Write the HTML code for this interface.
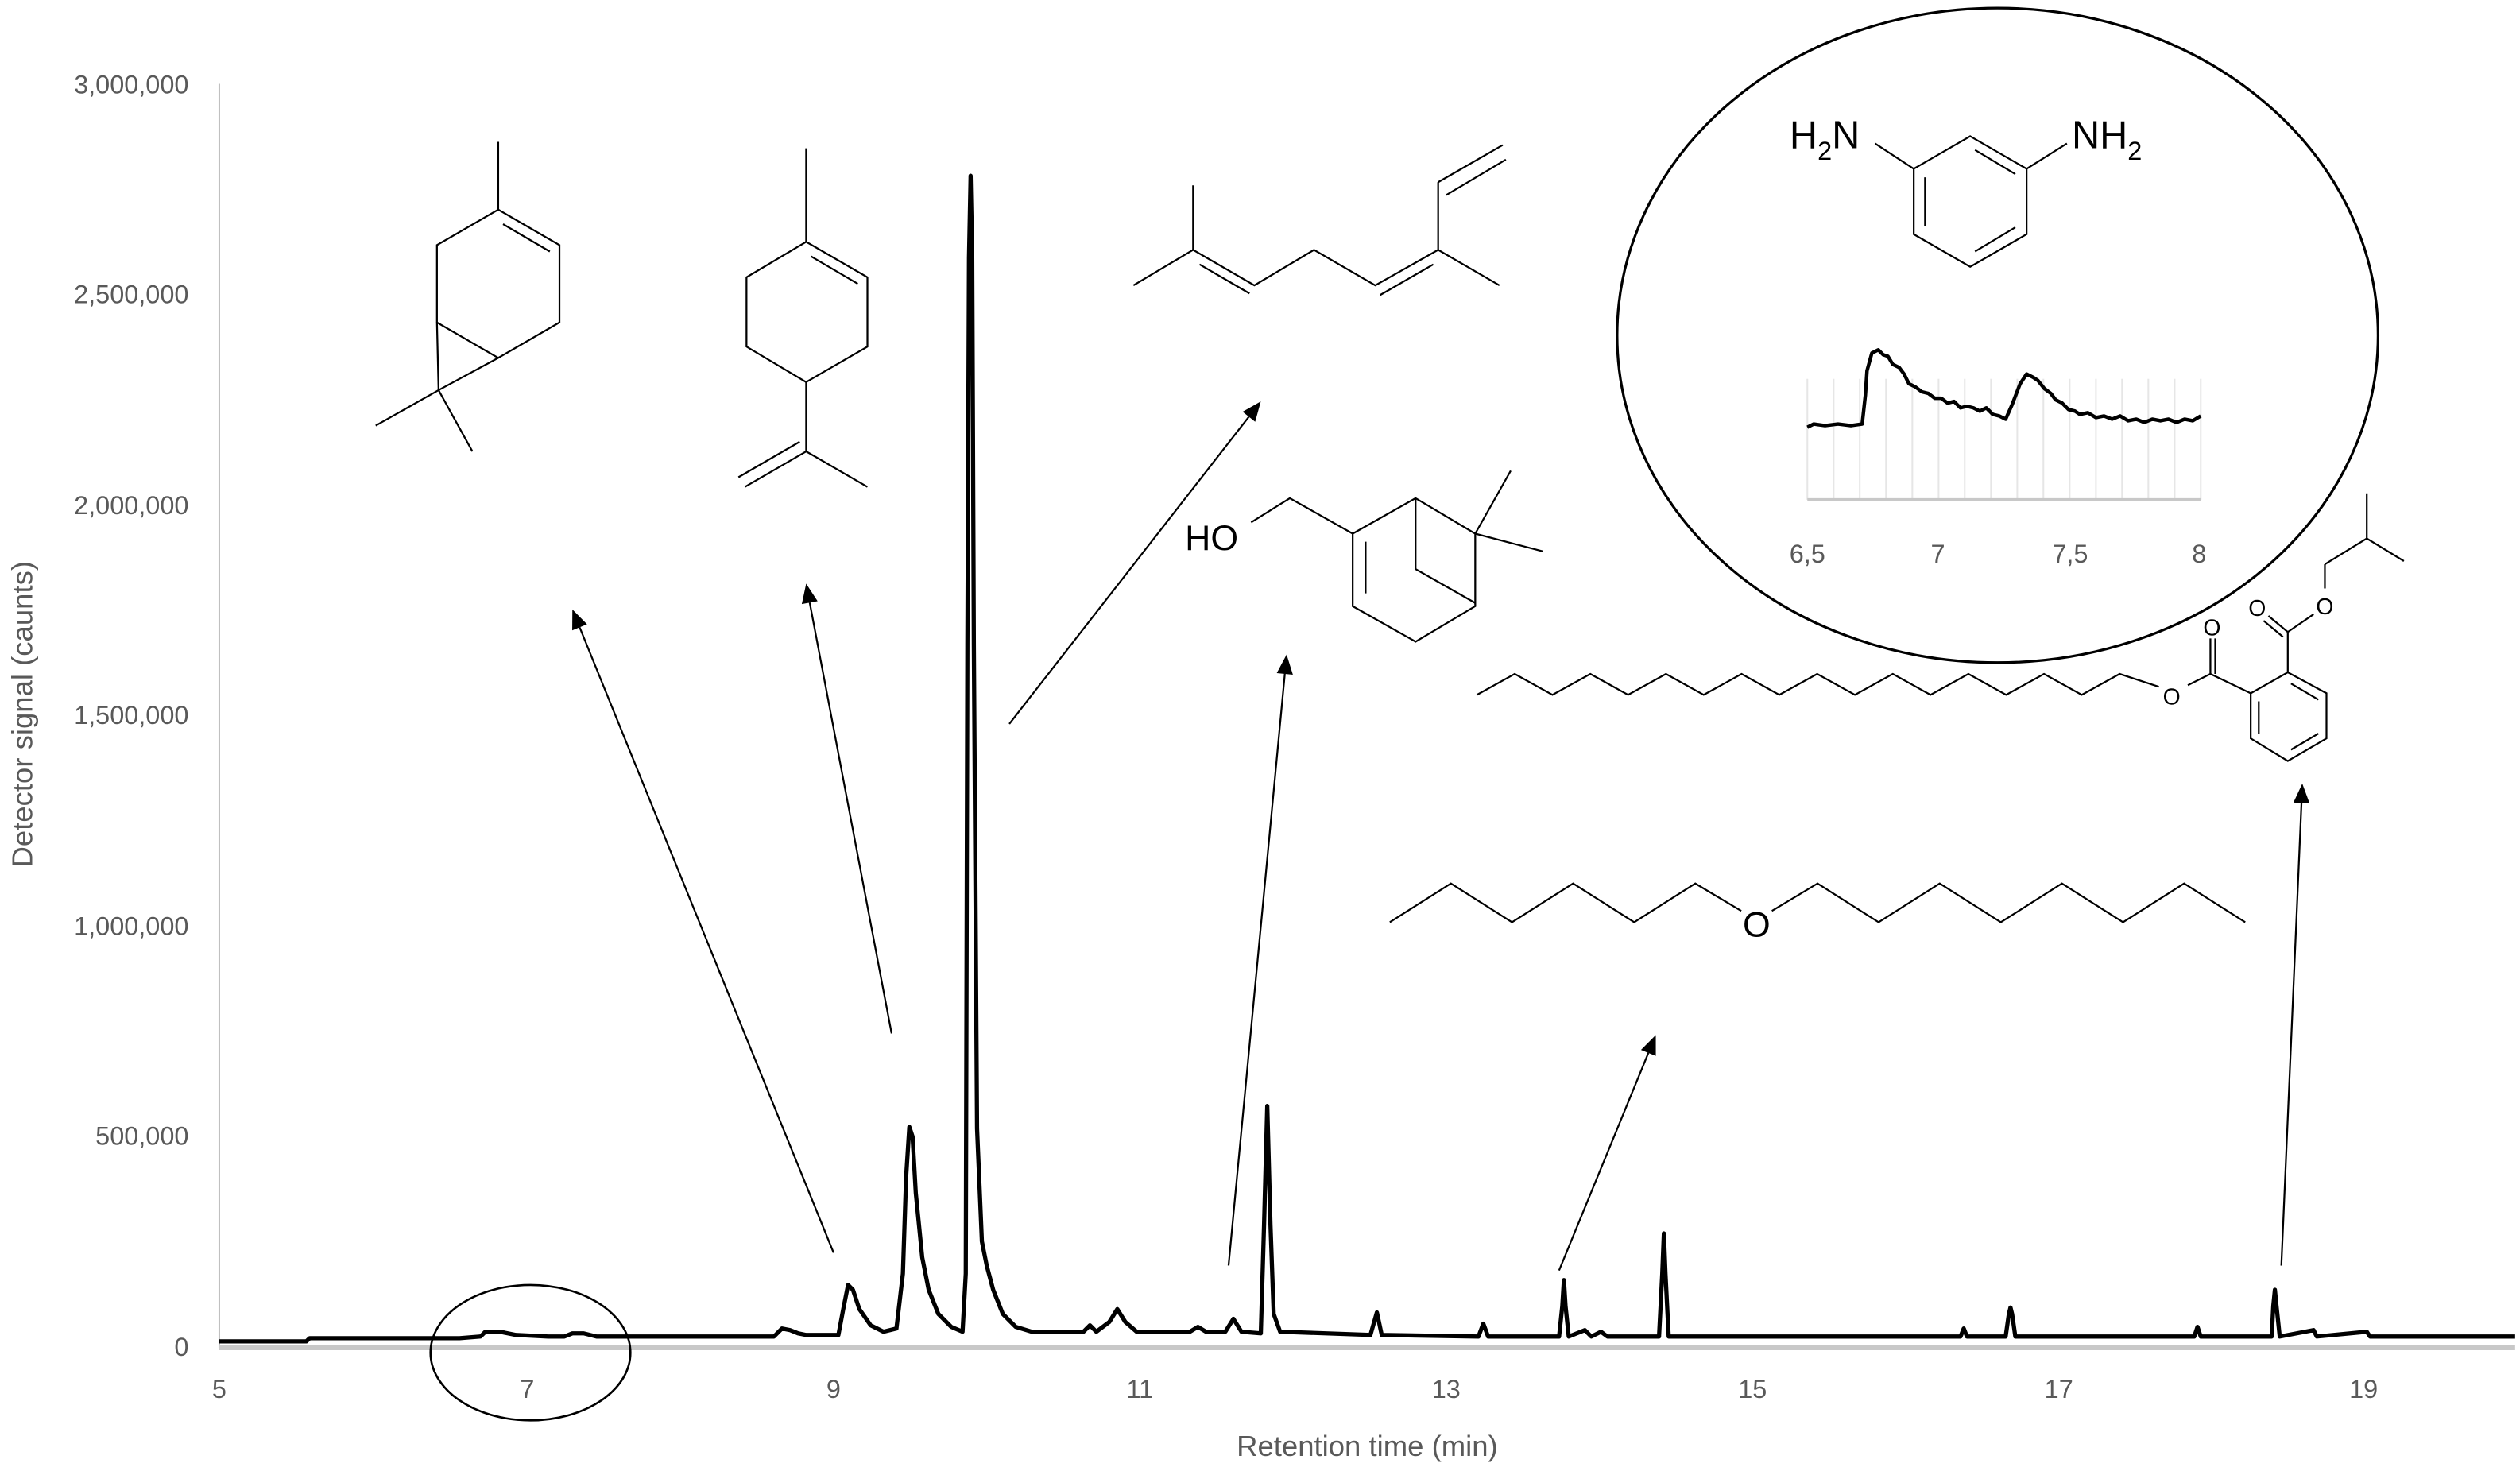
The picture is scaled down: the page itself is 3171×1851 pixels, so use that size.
<!DOCTYPE html>
<html><head><meta charset="utf-8"><style>
html,body{margin:0;padding:0;background:#fff;}
svg{display:block;}
.tk{font-family:"Liberation Sans",sans-serif;font-size:16px;fill:#595959;}
.m{stroke:#000;stroke-width:1.1;fill:none;}
.lbl{font-family:"Liberation Sans",sans-serif;fill:#000;}
</style></head><body>
<svg width="3171" height="1851" viewBox="0 0 1563 912.4" xmlns="http://www.w3.org/2000/svg">
<rect width="1563" height="913" fill="#fff"/>
<line x1="136" y1="52" x2="136" y2="836" stroke="#bfbfbf" stroke-width="1"/>
<line x1="136" y1="836" x2="1560" y2="836" stroke="#c8c8c8" stroke-width="3"/>
<g class="tk" text-anchor="end">
<text x="117" y="58">3,000,000</text>
<text x="117" y="188">2,500,000</text>
<text x="117" y="319">2,000,000</text>
<text x="117" y="449">1,500,000</text>
<text x="117" y="580">1,000,000</text>
<text x="117" y="710">500,000</text>
<text x="117" y="841">0</text>
</g>
<g class="tk" text-anchor="middle">
<text x="136" y="867">5</text><text x="327" y="867">7</text><text x="517" y="867">9</text>
<text x="707" y="867">11</text><text x="897" y="867">13</text><text x="1087" y="867">15</text>
<text x="1277" y="867">17</text><text x="1466" y="867">19</text>
<text x="848" y="903" style="font-size:18px">Retention time (min)</text>
<text transform="translate(20,443) rotate(-90)" style="font-size:18px">Detector signal (caunts)</text>
</g>
<polyline fill="none" stroke="#000" stroke-width="2.6" stroke-linejoin="round" points="136,832 190,832 192,830 285,830 298,829 301,826 310,826 320,828 340,829 350,829 355,827 362,827 370,829 480,829 485,824 490,825 495,827 500,828 520,828 523,812 526,797 529,800 533,812 540,822 548,826 556,824 560,790 562,730 564,699 566,705 568,740 572,780 576,800 582,815 590,823 597,826 599,790 600,400 601,160 602,109 603,160 604,400 606,700 609,770 612,785 616,800 622,815 630,823 640,826 672,826 676,822 680,826 688,820 693,812 698,820 705,826 738,826 743,823 748,826 760,826 765,818 770,826 782,827 784,760 786,686 788,760 790,815 794,826 850,828 854,814 857,828 917,829 920,821 923,829 967,829 969,810 970,794 971,810 973,829 983,825 987,829 993,826 997,829 1029,829 1031,790 1032,765 1033,790 1035,829 1216,829 1218,824 1220,829 1244,829 1246,815 1247,811 1248,815 1250,829 1361,829 1363,823 1365,829 1409,829 1410,810 1411,800 1412,810 1414,829 1435,825 1437,829 1468,826 1470,829 1560,829"/>
<ellipse cx="329" cy="839" rx="62" ry="42" fill="none" stroke="#000" stroke-width="1.3"/>
<ellipse cx="1239" cy="208" rx="236" ry="203" fill="none" stroke="#000" stroke-width="1.6"/>
<g stroke="#e6e6e6" stroke-width="1">
<line x1="1121" y1="235" x2="1121" y2="310"/><line x1="1137.3" y1="235" x2="1137.3" y2="310"/><line x1="1153.5" y1="235" x2="1153.5" y2="310"/><line x1="1169.8" y1="235" x2="1169.8" y2="310"/><line x1="1186.1" y1="235" x2="1186.1" y2="310"/><line x1="1202.4" y1="235" x2="1202.4" y2="310"/><line x1="1218.6" y1="235" x2="1218.6" y2="310"/><line x1="1234.9" y1="235" x2="1234.9" y2="310"/><line x1="1251.2" y1="235" x2="1251.2" y2="310"/><line x1="1267.4" y1="235" x2="1267.4" y2="310"/><line x1="1283.7" y1="235" x2="1283.7" y2="310"/><line x1="1300" y1="235" x2="1300" y2="310"/><line x1="1316.2" y1="235" x2="1316.2" y2="310"/><line x1="1332.5" y1="235" x2="1332.5" y2="310"/><line x1="1348.8" y1="235" x2="1348.8" y2="310"/><line x1="1365" y1="235" x2="1365" y2="310"/>
</g>
<line x1="1121" y1="310" x2="1365" y2="310" stroke="#c8c8c8" stroke-width="2"/>
<g class="tk" text-anchor="middle">
<text x="1121" y="349">6,5</text><text x="1202" y="349">7</text><text x="1284" y="349">7,5</text><text x="1364" y="349">8</text>
</g>
<polyline fill="none" stroke="#000" stroke-width="2.2" stroke-linejoin="round" points="1121,265 1125,263 1132,264 1140,263 1148,264 1155,263 1157,245 1158,230 1161,219 1165,217 1168,220 1171,221 1174,226 1178,228 1181,232 1184,238 1188,240 1192,243 1196,244 1200,247 1204,247 1208,250 1212,249 1216,253 1220,252 1224,253 1228,255 1232,253 1236,257 1240,258 1244,260 1248,251 1253,238 1257,232 1261,234 1264,236 1268,241 1272,244 1275,248 1279,250 1283,254 1287,255 1290,257 1295,256 1300,259 1305,258 1310,260 1315,258 1320,261 1325,260 1330,262 1335,260 1340,261 1345,260 1350,262 1355,260 1360,261 1365,258"/>
<g class="m">
<polygon points="1222,84.5 1257,104.7 1257,145.3 1222,165.5 1187,145.3 1187,104.7"/>
<line x1="1225" y1="93" x2="1250" y2="108"/><line x1="1250" y1="141" x2="1225" y2="156"/><line x1="1194" y1="110" x2="1194" y2="140"/>
<line x1="1187" y1="104.7" x2="1163" y2="89"/><line x1="1257" y1="104.7" x2="1282" y2="89"/>
</g>
<text class="lbl" x="1110" y="92" font-size="24">H<tspan font-size="16" dy="7">2</tspan><tspan dy="-7">N</tspan></text>
<text class="lbl" x="1285" y="92" font-size="24">NH<tspan font-size="16" dy="7">2</tspan></text>
<g class="m">
<line x1="309" y1="88" x2="309" y2="130"/>
<polygon points="309,130 347,152 347,200 309,222 271,200 271,152"/>
<line x1="312" y1="139" x2="341" y2="156"/>
<line x1="271" y1="200" x2="272" y2="242"/><line x1="309" y1="222" x2="272" y2="242"/>
<line x1="272" y1="242" x2="233" y2="264"/><line x1="272" y1="242" x2="293" y2="280"/>
</g>
<g class="m">
<line x1="500" y1="92" x2="500" y2="150"/>
<polygon points="500,150 538,172 538,215 500,237 463,215 463,172"/>
<line x1="503" y1="159" x2="532" y2="176"/>
<line x1="500" y1="237" x2="500" y2="280"/><line x1="500" y1="280" x2="538" y2="302"/>
<line x1="500" y1="280" x2="462" y2="302"/><line x1="496" y1="274" x2="458" y2="296"/>
</g>
<g class="m">
<polyline points="703,177 740,155 778,177 815,155 853,177 892,155 930,177"/>
<line x1="740" y1="155" x2="740" y2="115"/>
<line x1="744" y1="164" x2="775" y2="182"/>
<line x1="856" y1="183" x2="889" y2="164"/>
<line x1="892" y1="155" x2="892" y2="113"/><line x1="892" y1="113" x2="932" y2="90"/><line x1="897" y1="121" x2="934" y2="99"/>
</g>
<text class="lbl" x="735" y="341" font-size="22">HO</text>
<g class="m">
<polyline points="776,324 800,309 839,331"/>
<polygon points="839,331 878,309 915,331 915,376 878,398 839,376"/>
<line x1="847" y1="336" x2="847" y2="368"/>
<polyline points="878,309 878,353 915,374"/>
<line x1="915" y1="331" x2="937" y2="292"/><line x1="915" y1="331" x2="957" y2="342"/>
</g>
<g class="m">
<polyline points="862,572 899.9,548 937.8,572 975.7,548 1013.6,572 1051.5,548 1080,565"/>
<polyline points="1099,565 1127.3,548 1165.2,572 1203.1,548 1241,572 1278.9,548 1316.8,572 1354.7,548 1392.6,572"/>
</g>
<text class="lbl" x="1089.5" y="581" font-size="22" text-anchor="middle">O</text>
<g class="m">
<polyline points="916,431 939.5,418 962.9,431 986.4,418 1009.8,431 1033.3,418 1056.7,431 1080.2,418 1103.6,431 1127.1,418 1150.5,431 1174,418 1197.4,431 1220.9,418 1244.3,431 1267.8,418 1291.2,431 1314.7,418 1339,426"/>
<line x1="1357" y1="425" x2="1371" y2="418"/>
<line x1="1371" y1="418" x2="1396" y2="430"/>
<line x1="1371" y1="418" x2="1371" y2="396"/><line x1="1374" y1="418" x2="1374" y2="396"/>
<polygon points="1419,417 1443,430 1443,458 1419,472 1396,458 1396,430"/>
<line x1="1421" y1="424" x2="1438" y2="434"/><line x1="1438" y1="455" x2="1421" y2="465"/><line x1="1401" y1="435" x2="1401" y2="455"/>
<line x1="1419" y1="417" x2="1419" y2="392"/>
<line x1="1419" y1="392" x2="1407" y2="382"/><line x1="1416" y1="395" x2="1404" y2="385"/>
<line x1="1419" y1="392" x2="1435" y2="381"/>
<line x1="1442" y1="365" x2="1442" y2="350"/><line x1="1442" y1="350" x2="1468" y2="334"/>
<line x1="1468" y1="334" x2="1468" y2="306"/><line x1="1468" y1="334" x2="1491" y2="348"/>
</g>
<g class="lbl" font-size="14" text-anchor="middle">
<text x="1347" y="437">O</text><text x="1372" y="394">O</text><text x="1400" y="382">O</text><text x="1442" y="381">O</text>
</g>
<g stroke="#000" stroke-width="1.1">
<line x1="517" y1="777" x2="359.5" y2="389.1"/>
<line x1="553" y1="641" x2="502.2" y2="373.8"/>
<line x1="626" y1="449" x2="774.6" y2="258.5"/>
<line x1="762" y1="785" x2="796.9" y2="418"/>
<line x1="967" y1="788" x2="1022.4" y2="653.1"/>
<line x1="1415" y1="785" x2="1427.5" y2="498"/>
</g>
<g fill="#000">
<polygon points="355,378 364.1,387.2 354.9,391"/>
<polygon points="500,362 507.1,372.9 497.3,374.7"/>
<polygon points="782,249 778.5,261.6 770.7,255.4"/>
<polygon points="798,406 801.9,418.5 791.9,417.5"/>
<polygon points="1027,642 1027,655 1017.8,651.2"/>
<polygon points="1428,486 1432.5,498.2 1422.5,497.8"/>
</g>
</svg>
</body></html>
